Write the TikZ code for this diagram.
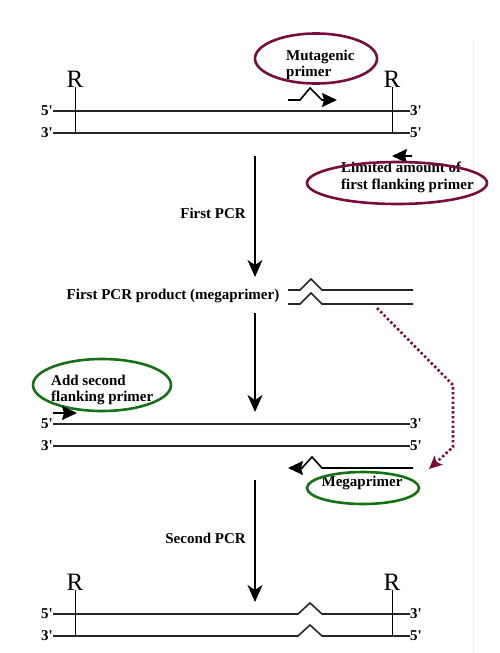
\documentclass[tikz,border=0pt]{standalone}
\usepackage{fontspec}
\setmainfont{Liberation Serif}
\usetikzlibrary{arrows.meta}
\definecolor{ringred}{RGB}{120,12,60}
\definecolor{ringgreen}{RGB}{22,112,22}

\begin{document}
\begin{tikzpicture}[x=1pt, y=-1pt,
	strand/.style={line width=1.6pt, black!85},
	site/.style={line width=1pt},
	lab/.style={font=\fontsize{15}{16.5}\selectfont\bfseries, inner sep=0pt},
	rsite/.style={font=\fontsize{25}{25}\selectfont, inner sep=0pt},
	pcrarrow/.style={line width=1.4pt, -{Stealth[length=17pt, width=15pt, inset=5pt]}},
	primerarrow/.style={line width=1.6pt, -{Stealth[length=15pt, width=14pt, inset=2pt]}},
	redring/.style={line width=2.6pt, draw=ringred},
	greenring/.style={line width=2.6pt, draw=ringgreen}]
	\useasboundingbox (0,0) rectangle (499,653);
	\draw[black!7, line width=1pt] (473,40) -- (473,653);

	% template
	\node[lab, anchor=east] (t5) at (53,111) {5\textquotesingle};
	\node[lab, anchor=west] (t3) at (410,111) {3\textquotesingle};
	\node[lab, anchor=east] (b3) at (53,133) {3\textquotesingle};
	\node[lab, anchor=west] (b5) at (410,133) {5\textquotesingle};
	\draw[strand] (t5) -- (t3);
	\draw[strand] (b3) -- (b5);
	\node[rsite] (rl) at (75,79) {R};
	\node[rsite] (rr) at (392,79) {R};
	\draw[site] (rl.south) -- (rl.south |- b3);
	\draw[site] (rr.south) -- (rr.south |- b3);

	% mutagenic primer
	\node[lab, anchor=west, align=left] (mut) at (286,65) {Mutagenic\\primer};
	\draw[redring] (316,58.5) ellipse [x radius=61, y radius=25];
	\coordinate (mutstart) at (288,100);
	\coordinate (mutend) at (337,100);
	\draw[primerarrow] (mutstart) -- (300,100) -- (310,88) -- (322,100) -- (mutend);

	% first flanking primer
	\coordinate (flankstart) at (412,156);
	\coordinate (flankend) at (392,156);
	\draw[primerarrow] (flankstart) -- (flankend);
	\node[lab, anchor=west, align=left] (lim) at (341,177.5) {Limited amount of\\first flanking primer};
	\draw[redring] (397,183) ellipse [x radius=90, y radius=21];

	% first PCR
	\coordinate (pcra) at (255,156);
	\coordinate (pcrb) at (255,277);
	\draw[pcrarrow] (pcra) -- (pcrb);
	\node[lab, anchor=east] (first) at (246,213) {First PCR};

	% megaprimer product
	\node[lab] (prod) at (173,296) {First PCR product (megaprimer)};
	\draw[strand] (288,290) -- (300,290) -- (311,279) -- (322,290) -- (413,290);
	\draw[strand] (288,304) -- (300,304) -- (311,293) -- (322,304) -- (413,304);
	\coordinate (dotstart) at (377,308);
	\coordinate (dotend) at (429,469);
	\draw[ringred, line width=2.6pt, dash pattern=on 2.4pt off 2.4pt,
		-{Stealth[length=13pt, width=12pt, inset=3pt]}]
		(dotstart) -- (453,385) -- (453,447) -- (dotend);

	\coordinate (pcrc) at (255,313);
	\coordinate (pcrd) at (255,412);
	\draw[pcrarrow] (pcrc) -- (pcrd);

	% second template
	\node[lab, anchor=east] (m5) at (53,424) {5\textquotesingle};
	\node[lab, anchor=west] (m3) at (410,424) {3\textquotesingle};
	\node[lab, anchor=east] (n3) at (53,446) {3\textquotesingle};
	\node[lab, anchor=west] (n5) at (410,446) {5\textquotesingle};
	\draw[strand] (m5) -- (m3);
	\draw[strand] (n3) -- (n5);

	% second flanking primer
	\node[lab, anchor=west, align=left] (add) at (51,390) {Add second\\flanking primer};
	\draw[greenring] (102,385) ellipse [x radius=69, y radius=26];
	\coordinate (addstart) at (53,413);
	\coordinate (addend) at (77,413);
	\draw[primerarrow] (addstart) -- (addend);

	% megaprimer
	\coordinate (megastart) at (413,468);
	\coordinate (megaend) at (288,468);
	\draw[primerarrow] (megastart) -- (322,468) -- (312,457) -- (302,468) -- (megaend);
	\node[lab] (mega) at (362,483) {Megaprimer};
	\draw[greenring] (363,488) ellipse [x radius=56, y radius=16];

	% second PCR
	\coordinate (pcre) at (255,480);
	\coordinate (pcrf) at (255,602);
	\draw[pcrarrow] (pcre) -- (pcrf);
	\node[lab, anchor=east] (second) at (246,538) {Second PCR};

	% mutant product
	\node[lab, anchor=east] (f5) at (53,614) {5\textquotesingle};
	\node[lab, anchor=west] (f3) at (410,614) {3\textquotesingle};
	\node[lab, anchor=east] (g3) at (53,636) {3\textquotesingle};
	\node[lab, anchor=west] (g5) at (410,636) {5\textquotesingle};
	\draw[strand] (f5) -- (298,614) -- (310,603) -- (322,614) -- (f3);
	\draw[strand] (g3) -- (298,636) -- (310,625) -- (322,636) -- (g5);
	\node[rsite] (sl) at (75,582) {R};
	\node[rsite] (sr) at (392,582) {R};
	\draw[site] (sl.south) -- (sl.south |- g3);
	\draw[site] (sr.south) -- (sr.south |- g3);
\end{tikzpicture}
\end{document}
